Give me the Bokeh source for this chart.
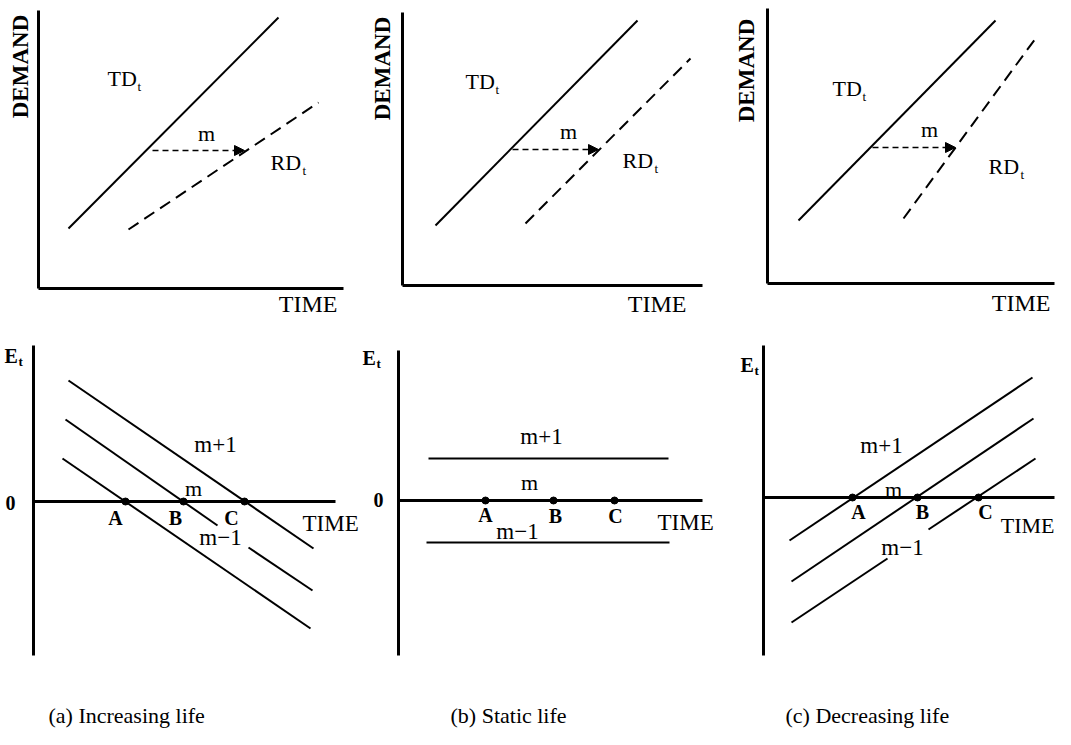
import math
from bokeh.plotting import figure
from bokeh.models import ColumnDataSource, Range1d, Arrow, NormalHead
from bokeh.core.properties import value
from bokeh.embed import file_html
from bokeh.resources import INLINE

SERIF = "Liberation Serif"

# ---------------- Top row: DEMAND vs TIME (panels a, b, c) ----------------
dem_axis_x = [38, 402, 767]
dem_axis_top = [10, 12, 8]
dem_axis_base = [288, 285, 283]
dem_axis_right = [343, 702, 1054]

# total demand TD_t (solid)
td_x0 = [68, 435, 798]
td_y0 = [228, 225, 220]
td_x1 = [278, 637, 995]
td_y1 = [17, 20, 20]

# replacement demand RD_t (dashed)
rd_x0 = [128, 525, 903]
rd_y0 = [229, 223, 218]
rd_x1 = [318, 690, 1035]
rd_y1 = [102, 58, 38]

# lag m arrows
lag_x0 = [152, 512, 872]
lag_x1 = [244, 598, 955]
lag_y = [150, 149, 147]

# ---------------- Bottom row: E_t vs TIME ----------------
e_axis_x = [33, 398, 763]
e_axis_top = [345, 350, 345]
e_axis_bottom = [655, 655, 655]
zero_y = [501, 500, 497]
zero_right = [335, 702, 1054]

# E_t lines for m+1, m, m-1 (segments; gaps left for labels)
e_seg_x0 = [68, 65, 248, 62,   428, 426,   789, 791, 791, 928]
e_seg_y0 = [380, 419, 547, 458, 458, 542,  540, 581, 622, 529]
e_seg_x1 = [313, 217, 312, 310, 668, 669,  1032, 1033, 887, 1035]
e_seg_y1 = [548, 525, 590, 628, 458, 542,  377, 418, 558, 458]

# points A, B, C on the zero line
abc_x = [125, 183, 244, 485, 553, 614, 852, 917, 978]
abc_y = [501, 501, 501, 500, 500, 500, 497, 497, 497]

# ---------------- Labels ----------------
demand_lbl_x = [20, 382, 746]
demand_lbl_y = [66, 68, 70]

td_lbl_x = [107, 465, 832]
td_lbl_y = [78, 81, 88]
rd_lbl_x = [270, 622, 988]
rd_lbl_y = [162, 160, 166]
m_top_x = [206, 568, 929]
m_top_y = [133, 131, 129]
time_top_right = [337, 686, 1050]
time_top_y = [303, 303, 302]

et_lbl_x = [4, 362, 740]
et_lbl_y = [355, 357, 364]
zero_lbl_x = [10, 378]
zero_lbl_y = [502, 499]
abc_lbl_text = ["A", "B", "C"] * 3
abc_lbl_x = [115, 175, 231, 485, 555, 615, 858, 922, 985]
abc_lbl_y = [517, 517, 517, 514, 515, 515, 511, 511, 511]
mp1_x = [215, 541, 881]
mp1_y = [444, 436, 445]
m_bot_x = [193, 529, 893]
m_bot_y = [488, 482, 489]
mm1_x = [220, 517, 902]
mm1_y = [537, 531, 547]
time_bot_x = [302, 657]
time_bot_y = [523, 522]
time_bot_c_right = [1054]
time_bot_c_y = [525]

captions = ["(a) Increasing life", "(b) Static life", "(c) Decreasing life"]
caption_x = [48, 450, 785]
caption_y = [715, 715, 715]

p = figure(width=1055, height=729, output_backend="svg", toolbar_location=None,
           x_range=Range1d(0, 1055), y_range=Range1d(729, 0),
           x_axis_location=None, y_axis_location=None, min_border=0,
           outline_line_color=None, background_fill_color="white",
           border_fill_color="white")
p.grid.visible = False

# axes of the top row
p.segment(x0=dem_axis_x, y0=dem_axis_top, x1=dem_axis_x, y1=dem_axis_base,
          line_color="black", line_width=3)
p.segment(x0=dem_axis_x, y0=dem_axis_base, x1=dem_axis_right, y1=dem_axis_base,
          line_color="black", line_width=3)
# TD and RD
p.segment(x0=td_x0, y0=td_y0, x1=td_x1, y1=td_y1, line_color="black", line_width=2)
p.segment(x0=rd_x0, y0=rd_y0, x1=rd_x1, y1=rd_y1, line_color="black", line_width=2,
          line_dash="12 7")
# lag arrows
arr_src = ColumnDataSource(dict(x0=lag_x0, x1=lag_x1, y=lag_y))
p.add_layout(Arrow(source=arr_src, x_start="x0", y_start="y", x_end="x1", y_end="y",
                   line_color="black", line_width=1.6, line_dash="6 4",
                   end=NormalHead(size=10, fill_color="black", line_color="black")))

# axes of the bottom row
p.segment(x0=e_axis_x, y0=e_axis_top, x1=e_axis_x, y1=e_axis_bottom,
          line_color="black", line_width=3)
p.segment(x0=e_axis_x, y0=zero_y, x1=zero_right, y1=zero_y,
          line_color="black", line_width=3)
p.segment(x0=e_seg_x0, y0=e_seg_y0, x1=e_seg_x1, y1=e_seg_y1,
          line_color="black", line_width=2)
p.scatter(x=abc_x, y=abc_y, size=7, color="black")


def txt(xs, ys, texts, size, align="left", bold=False, angle=0.0, baseline="middle"):
    src = ColumnDataSource(dict(x=xs, y=ys, t=texts))
    p.text(x="x", y="y", text="t", source=src, text_font=value(SERIF),
           text_font_size=f"{size}px", text_align=align, text_baseline=baseline,
           text_font_style="bold" if bold else "normal", text_color="black",
           angle=angle)


txt(demand_lbl_x, demand_lbl_y, ["DEMAND"] * 3, 23, align="center", bold=True,
    angle=math.pi / 2)
txt(td_lbl_x, td_lbl_y, ["TD"] * 3, 22)
txt([x + 30 for x in td_lbl_x], [y + 8 for y in td_lbl_y], ["t"] * 3, 13)
txt(rd_lbl_x, rd_lbl_y, ["RD"] * 3, 22)
txt([x + 32 for x in rd_lbl_x], [y + 8 for y in rd_lbl_y], ["t"] * 3, 13)
txt(m_top_x, m_top_y, ["m"] * 3, 22, align="center")
txt(time_top_right, time_top_y, ["TIME"] * 3, 24, align="right")

txt(et_lbl_x, et_lbl_y, ["E"] * 3, 20, bold=True)
txt([x + 14 for x in et_lbl_x], [y + 6 for y in et_lbl_y], ["t"] * 3, 13, bold=True)
txt(zero_lbl_x, zero_lbl_y, ["0"] * 2, 20, align="center", bold=True)
txt(abc_lbl_x, abc_lbl_y, abc_lbl_text, 20, align="center", bold=True)
txt(mp1_x, mp1_y, ["m+1"] * 3, 23, align="center")
txt(m_bot_x, m_bot_y, ["m"] * 3, 22, align="center")
txt(mm1_x, mm1_y, ["m\u22121"] * 3, 23, align="center")
txt(time_bot_x, time_bot_y, ["TIME"] * 2, 23)
txt(time_bot_c_right, time_bot_c_y, ["TIME"], 22, align="right")

txt(caption_x, caption_y, captions, 22, baseline="alphabetic")

open("out.html", "w").write(file_html(p, INLINE))
